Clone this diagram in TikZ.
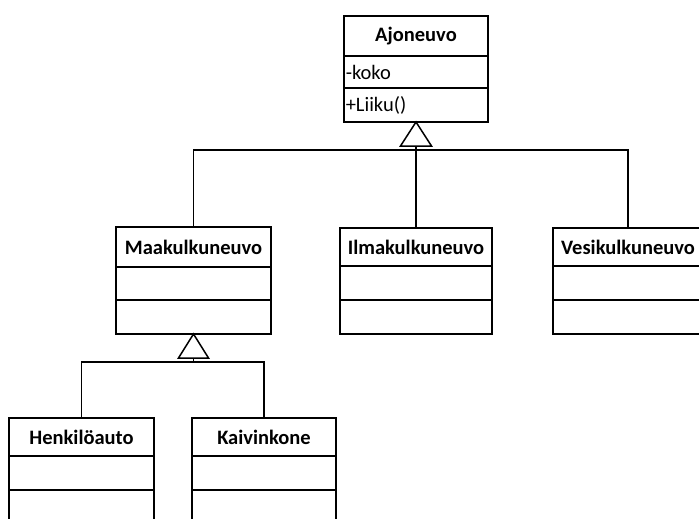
\documentclass[tikz,border=0pt]{standalone}
\usepackage{fontspec}
\setmainfont{Carlito}
\newcommand\classfont{\fontsize{20.5}{24}\selectfont}
% \umlclass{name}{left}{right}{top}{divider 1}{divider 2}{bottom}{title}
\newcommand\umlclass[8]{%
  \node[classbox, minimum width={#3-#2}, minimum height={#7-#4}, anchor=north west]
    (#1) at (#2,#4) {};
  \draw (#2,#5) -- (#3,#5);
  \draw (#2,#6) -- (#3,#6);
  \node[classtitle] (#1-title) at ({(#2+#3)/2},{(#4+#5)/2}) {#8};
}
\begin{document}
\begin{tikzpicture}[x=1pt,y=-1pt,line width=1.5pt,
  classbox/.style={draw,rectangle,inner sep=0pt,outer sep=0pt,fill=white},
  classtitle/.style={inner sep=0pt,font=\classfont\bfseries},
  member/.style={inner sep=0pt,anchor=west,font=\classfont},
  hollowtip/.style={draw,fill=white,line join=miter}]
\useasboundingbox (0,0) rectangle (699,519);
\clip (0,0) rectangle (699,519);
\fill[white] (0,0) rectangle (699,519);

% classes
\umlclass{aj}{344}{488}{16}{56}{88}{122}{Ajoneuvo}
\node[member] (aj-attr) at (345,72) {-koko};
\node[member] (aj-op) at (345,105) {+Liiku()};

\umlclass{maa}{116}{271}{227}{267}{300}{334}{Maakulkuneuvo}
\umlclass{ilma}{340}{492}{228}{266}{300}{334}{Ilmakulkuneuvo}
\umlclass{vesi}{553}{703}{228}{266}{300}{334}{Vesikulkuneuvo}
\umlclass{henk}{9}{154}{418}{456}{490}{530}{Henkilöauto}
\umlclass{kaiv}{192}{336}{418}{456}{490}{530}{Kaivinkone}

% generalization: Ajoneuvo
\coordinate (hub1) at (416,150);
\coordinate (base1) at (416,146);
\draw (maa.north) |- (hub1) -| (vesi.north);
\draw (ilma.north) -- (base1);
\draw[hollowtip] (aj.south) -- ++(-15.5,24) -- ++(31,0) -- cycle;

% generalization: Maakulkuneuvo
\coordinate (hub2) at (193.5,362);
\coordinate (base2) at (193.5,358);
\draw (henk.north) |- (hub2) -| (kaiv.north);
\draw (hub2) -- (base2);
\draw[hollowtip] (maa.south) -- ++(-15,24) -- ++(30,0) -- cycle;
\end{tikzpicture}
\end{document}
